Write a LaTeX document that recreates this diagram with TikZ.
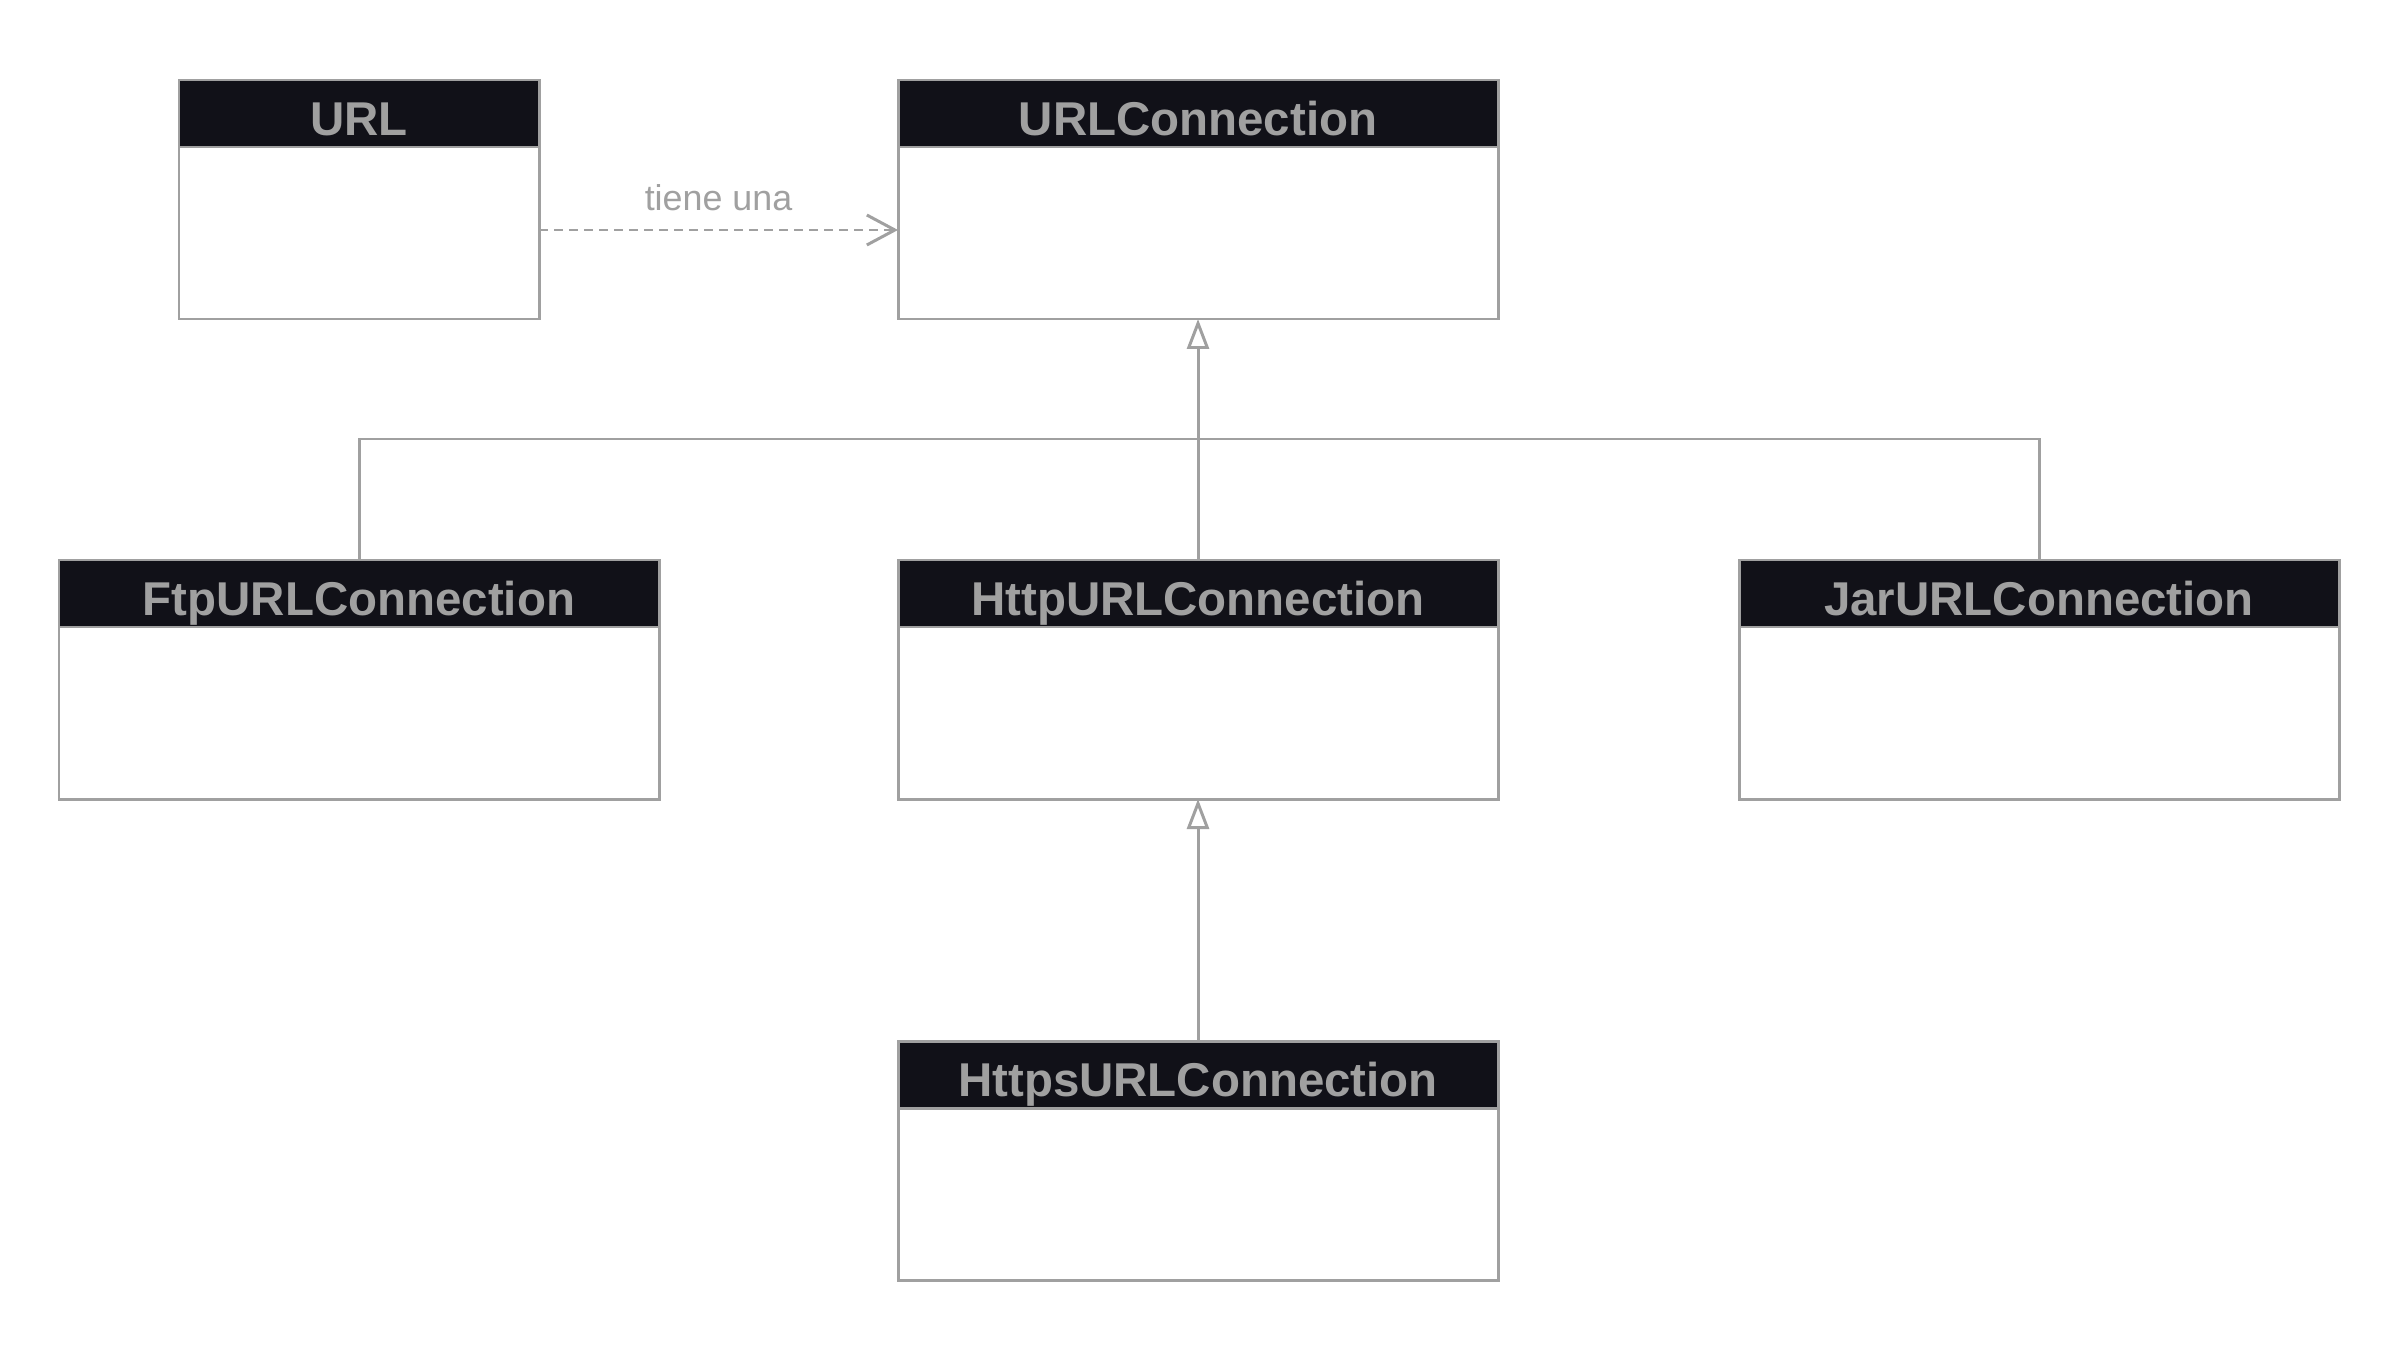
\documentclass[tikz,border=0pt]{standalone}
\usepackage{fontspec}
\setmainfont{Liberation Sans}
\usepackage{tikz}
\usetikzlibrary{arrows.meta, positioning}
\definecolor{umlgray}{HTML}{A0A0A0}
\definecolor{umldark}{HTML}{111118}

\begin{document}
\begin{tikzpicture}[
    classhead/.style={draw=umlgray, fill=umldark, text=umlgray, line width=0.85pt,
                      minimum width=#1, minimum height=0.67cm, inner sep=0pt, outer sep=0pt,
                      text height=0.434cm, text depth=0pt,
                      font=\bfseries\fontsize{13.5}{16}\selectfont},
    classbody/.style={draw=umlgray, fill=white, line width=0.85pt,
                      minimum width=#1, minimum height=1.72cm, inner sep=0pt, outer sep=0pt},
    link/.style={draw=umlgray, line width=0.85pt},
    inherit/.style={link, -{Triangle[open, length=0.3cm, width=0.22cm]}},
    dep/.style={link, dash pattern=on 0.09cm off 0.06cm,
                -{Straight Barb[length=0.28cm, width=0.3cm]}},
]
    \useasboundingbox (0,0) rectangle (24,-13.6);

    % top row
    \node[classhead=3.6cm] (urlT) at (3.59, -1.135) {URL};
    \node[classbody=3.6cm, below=0pt of urlT] (url) {};
    \node[classhead=6cm] (urlcT) at (11.98, -1.135) {URLConnection};
    \node[classbody=6cm, below=0pt of urlcT] (urlc) {};

    % subclasses
    \node[classhead=6cm] (ftpT) at (3.59, -5.935) {FtpURLConnection};
    \node[classbody=6cm, below=0pt of ftpT] (ftp) {};
    \node[classhead=6cm] (httpT) at (11.98, -5.935) {HttpURLConnection};
    \node[classbody=6cm, below=0pt of httpT] (http) {};
    \node[classhead=6cm] (jarT) at (20.39, -5.935) {JarURLConnection};
    \node[classbody=6cm, below=0pt of jarT] (jar) {};
    \node[classhead=6cm] (httpsT) at (11.98, -10.745) {HttpsURLConnection};
    \node[classbody=6cm, below=0pt of httpsT] (https) {};

    % association
    \draw[dep] ([yshift=0.03cm]url.east) -- node[above=0.06cm, text=umlgray, font=\fontsize{10.2}{12}\selectfont] {tiene una} ([yshift=0.03cm]urlc.west);

    % inheritance
    \coordinate (bus) at (11.98, -4.39);
    \draw[link] (ftpT.north) |- (bus) -| (jarT.north);
    \draw[inherit] (httpT.north) -- (urlc.south);
    \draw[inherit] (httpsT.north) -- (http.south);
\end{tikzpicture}
\end{document}
